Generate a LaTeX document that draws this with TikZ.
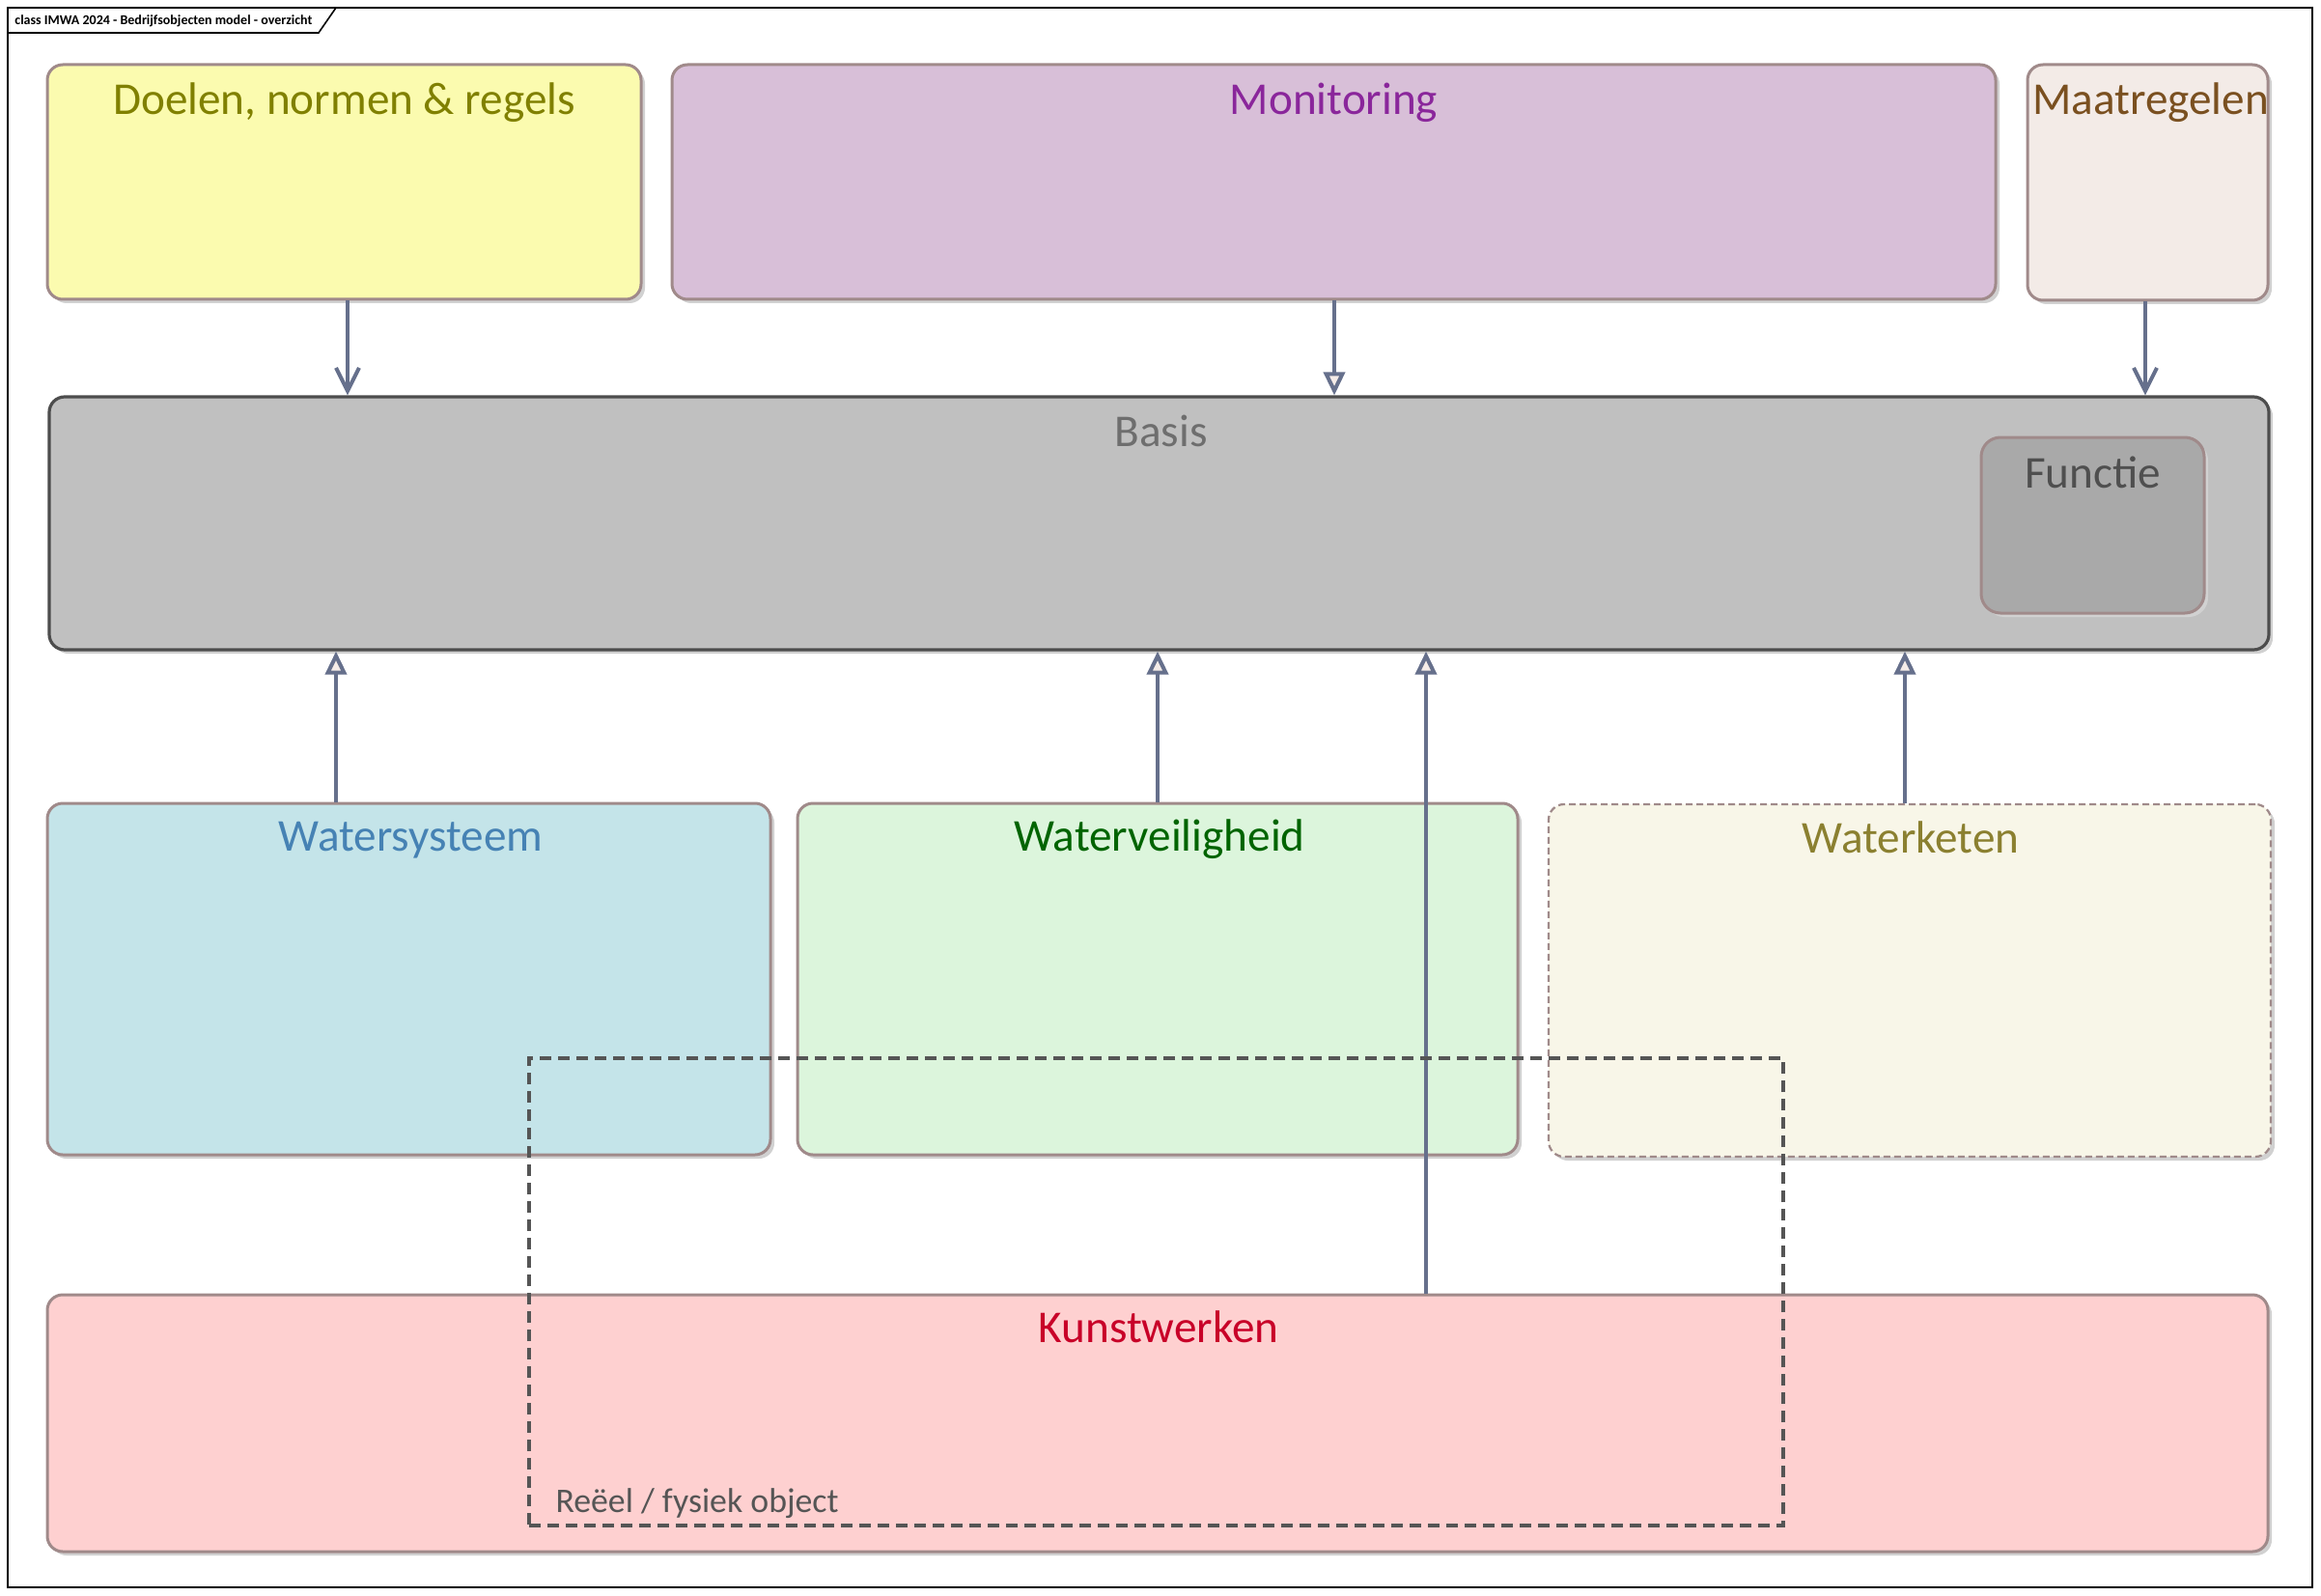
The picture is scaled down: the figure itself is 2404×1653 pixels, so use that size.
\documentclass[tikz,border=0pt]{standalone}
\usepackage{fontspec}
\setmainfont{Carlito}
\usetikzlibrary{arrows.meta,calc,fit,shadows}
\definecolor{bordc}{RGB}{160,138,138}
\definecolor{arrc}{RGB}{102,112,140}
\definecolor{trifill}{RGB}{245,236,232}
\definecolor{dashc}{RGB}{85,85,85}
\definecolor{fDoel}{RGB}{251,251,175}
\definecolor{tDoel}{RGB}{128,128,0}
\definecolor{fMon}{RGB}{216,191,216}
\definecolor{tMon}{RGB}{138,38,155}
\definecolor{fMaat}{RGB}{243,235,231}
\definecolor{tMaat}{RGB}{122,80,32}
\definecolor{fBas}{RGB}{192,192,192}
\definecolor{bBas}{RGB}{77,77,77}
\definecolor{tBas}{RGB}{110,110,110}
\definecolor{fFun}{RGB}{169,169,169}
\definecolor{tFun}{RGB}{79,79,79}
\definecolor{fWs}{RGB}{196,228,233}
\definecolor{tWs}{RGB}{70,130,180}
\definecolor{fWv}{RGB}{220,245,220}
\definecolor{tWv}{RGB}{0,100,0}
\definecolor{fWk}{RGB}{248,246,232}
\definecolor{tWk}{RGB}{139,128,48}
\definecolor{fKw}{RGB}{254,208,208}
\definecolor{tKw}{RGB}{200,0,40}
\tikzset{
  box/.style={draw=bordc, line width=1.5pt, rounded corners=8pt, inner sep=0pt,
    drop shadow={shadow xshift=2pt, shadow yshift=-2pt, fill=black!18, opacity=1}},
  ttl/.style={anchor=base, inner sep=0pt, font=\fontsize{23.6}{28}\selectfont},
  arrV/.style={draw=arrc, line width=2pt, -{Straight Barb[length=12pt,width=12pt,line width=2pt]}},
  arrT/.style={draw=arrc, line width=2pt, line join=round, -{Triangle[length=12pt,width=11pt,fill=trifill,line width=2pt]}},
  dashbox/.style={draw=dashc, line width=1.9pt, dash pattern=on 6pt off 3.5pt, inner sep=0pt}
}
\begin{document}
\begin{tikzpicture}[x=0.5pt,y=-0.5pt]
\useasboundingbox (0,0) rectangle (2404,1653);
\fill[white] (0,0) rectangle (2404,1653);
% frame
\node[draw=black, line width=0.8pt, inner sep=0pt, fit={(8,8) (2395,1644)}] (frame) {};
\coordinate (tabA) at (8,34);
\coordinate (tabB) at (330,34);
\coordinate (tabC) at (348,8);
\draw[line width=0.8pt] (tabA) -- (tabB) -- (tabC);
\node[anchor=base west, inner sep=0pt, font=\fontsize{7}{8}\selectfont\bfseries] (hdr) at (15,26) {class IMWA 2024 - Bedrijfsobjecten model - overzicht};

% boxes
\node[box, fill=fDoel, fit={(49,67) (664,310)}] (doelen) {};
\node[box, fill=fMon, fit={(696,67) (2067,310)}] (monitor) {};
\node[box, fill=fMaat, fit={(2100,67) (2349,311)}] (maatr) {};
\node[box, fill=fBas, draw=bBas, line width=1.6pt, fit={(51,411) (2350,673)}] (basis) {};
\node[box, fill=fFun, fit={(2052,453) (2283,635)}, rounded corners=10pt] (functie) {};
\node[box, fill=fWs, fit={(49,832) (798,1196)}] (watersys) {};
\node[box, fill=fWv, fit={(826,832) (1572,1196)}] (waterveil) {};
\node[box, fill=fWk, line width=1.1pt, dash pattern=on 3.5pt off 2pt, fit={(1604,833) (2352,1198)}] (waterket) {};
\node[box, fill=fKw, fit={(49,1341) (2349,1607)}] (kunst) {};

% titles
\node[ttl, text=tDoel] (doelenT) at ($(doelen.north)+(0,53)$) {Doelen, normen \& regels};
\node[ttl, text=tMon] (monitorT) at ($(monitor.north)+(0,53)$) {Monitoring};
\node[ttl, text=tMaat] (maatrT) at ($(maatr.north)+(3,53)$) {Maatregelen};
\node[ttl, text=tBas] (basisT) at ($(basis.north)+(2,53)$) {Basis};
\node[ttl, text=tFun] (functieT) at ($(functie.north)+(0,54)$) {Functie};
\node[ttl, text=tWs] (watersysT) at ($(watersys.north)+(2,51)$) {Watersysteem};
\node[ttl, text=tWv] (waterveilT) at ($(waterveil.north)+(2,51)$) {Waterveiligheid};
\node[ttl, text=tWk] (waterketT) at ($(waterket.north)+(1,52)$) {Waterketen};
\node[ttl, text=tKw] (kunstT) at ($(kunst.north)+(1,51)$) {Kunstwerken};

% arrow x positions
\coordinate (xDoel) at (360,0);
\coordinate (xMon) at (1382,0);
\coordinate (xMaat) at (2222,0);
\coordinate (xWs) at (348,0);
\coordinate (xWv) at (1199,0);
\coordinate (xKw) at (1477,0);
\coordinate (xWk) at (1973,0);

\draw[arrV] (doelen.south -| xDoel) -- (basis.north -| xDoel);
\draw[arrT] (monitor.south -| xMon) -- (basis.north -| xMon);
\draw[arrV] (maatr.south -| xMaat) -- (basis.north -| xMaat);
\draw[arrT] (watersys.north -| xWs) -- (basis.south -| xWs);
\draw[arrT] (waterveil.north -| xWv) -- (basis.south -| xWv);
\draw[arrT] (kunst.north -| xKw) -- (basis.south -| xKw);
\draw[arrT] (waterket.north -| xWk) -- (basis.south -| xWk);

% dashed group
\node[dashbox, fit={(548,1096) (1847,1580)}] (fysiek) {};
\node[anchor=base west, inner sep=0pt, text=dashc, font=\fontsize{17.9}{21}\selectfont] (fysiekT) at ($(fysiek.south west)+(29,-15)$) {Reëel / fysiek object};
\end{tikzpicture}
\end{document}
